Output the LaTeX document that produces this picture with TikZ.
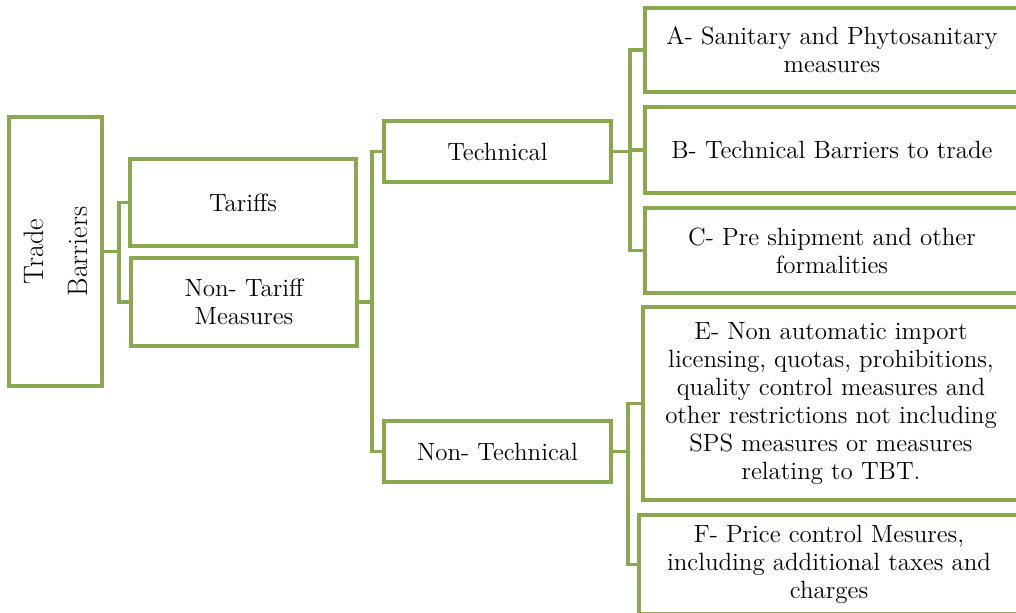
\documentclass[tikz,border=0pt]{standalone}
\usepackage{fontspec}
\usepackage{xcolor}
\usetikzlibrary{positioning}
\definecolor{olive}{RGB}{138,168,80}
\tikzset{
  box/.style={draw=olive, line width=0.75mm, fill=white, align=center, inner sep=0pt,
    font=\fontsize{14.2}{15.9}\selectfont},
  link/.style={draw=olive, line width=0.7mm}
}

\begin{document}
\begin{tikzpicture}[x=0.2mm, y=-0.2mm]
				\useasboundingbox (0,0) rectangle (1016,612);
				\clip (0,0) rectangle (1016,612);

				% first level
				\node[box, minimum width=18.6mm, minimum height=53.8mm] (tb) at (55.5, 251.5) {};
				\node[rotate=90, align=center, font=\fontsize{16}{17}\selectfont] (tbtext) at (55.5, 251.5) {Trade\\[8pt]Barriers};
				\node[box, minimum width=45.2mm, minimum height=17.4mm] (tariffs) at (243, 202.5) {Tariffs};
				\node[box, minimum width=45.2mm, minimum height=17.6mm] (ntm) at (244, 302) {Non- Tariff\\Measures};

				% second level
				\node[box, minimum width=45.4mm, minimum height=12.2mm] (tech) at (497.5, 151.5) {Technical};
				\node[box, minimum width=45.4mm, minimum height=12.2mm] (nontech) at (497.5, 451.5) {Non- Technical};

				% measures
				\node[box, minimum width=74.8mm, minimum height=16.8mm] (sps) at (832, 50) {A- Sanitary and Phytosanitary\\measures};
				\node[box, minimum width=74.8mm, minimum height=17.2mm] (tbt) at (832, 150) {B- Technical Barriers to trade};
				\node[box, minimum width=74.8mm, minimum height=17mm] (preship) at (832, 250.5) {C- Pre shipment and other\\formalities};
				\node[box, minimum width=75.2mm, minimum height=38.6mm] (licensing) at (831, 403.5) {E- Non automatic import\\licensing, quotas, prohibitions,\\quality control measures and\\other restrictions not including\\SPS measures or measures\\relating to TBT.};
				\node[box, minimum width=76mm, minimum height=19.8mm] (price) at (829, 564.5) {F- Price control Mesures,\\including additional taxes and\\charges};

				\draw[link] (tb.east) -- ++(15,0) |- (tariffs.west);
				\draw[link] (tb.east) -- ++(15,0) |- (ntm.west);

				\draw[link] (ntm.east) -- ++(13,0) |- (tech.west);
				\draw[link] (ntm.east) -- ++(13,0) |- (nontech.west);

				\draw[link] (tech.east) -- ++(17,0) |- (sps.west);
				\draw[link] (tech.east) -- ++(17,0) |- (tbt.west);
				\draw[link] (tech.east) -- ++(17,0) |- (preship.west);

				\draw[link] (nontech.east) -- ++(15,0) |- (licensing.west);
				\draw[link] (nontech.east) -- ++(15,0) |- (price.west);
			\end{tikzpicture}
\end{document}
